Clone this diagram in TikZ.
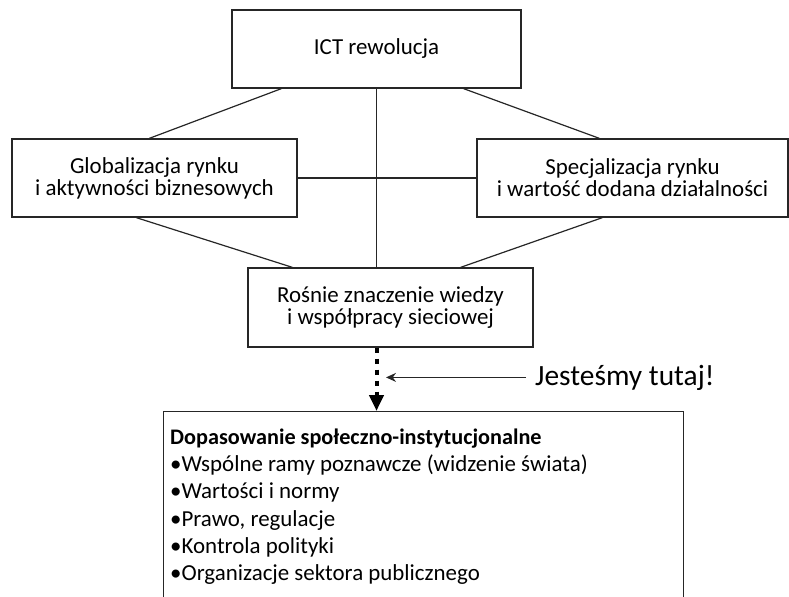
\documentclass[tikz,border=0pt]{standalone}
\usepackage{fontspec}
\setmainfont{Carlito}
\usetikzlibrary{calc}
\usetikzlibrary{arrows.meta}

\begin{document}
\begin{tikzpicture}[x=1bp,y=-1bp,
  box/.style={draw=black!85, line width=1.3bp, align=center, inner sep=0pt,
    minimum height=78bp, font=\fontsize{23}{22}\selectfont},
  link/.style={black!85, line width=1.2bp}]
\useasboundingbox (0,0) rectangle (789,597);
\clip (0,0) rectangle (789,597);
% boxes
\node[box, minimum width=289bp] (ict) at (376.5,49) {ICT rewolucja};
\node[box, minimum width=285bp] (glob) at (154.5,178) {Globalizacja rynku\\i aktywności biznesowych};
\node[box, minimum width=311bp] (spec) at (632.5,178) {Specjalizacja rynku\\i wartość dodana działalności};
\node[box, minimum width=285bp, minimum height=79bp] (wiedza) at (390.5,307.5) {Rośnie znaczenie wiedzy\\i współpracy sieciowej};
\node[box, minimum width=520bp, minimum height=215bp, anchor=north west] (dopas) at (163,411) {};
\node[anchor=north west, inner sep=0pt, align=left, font=\fontsize{23}{27.2}\selectfont] (lista) at (170,429)
  {{\bfseries\fontsize{22.3}{27.2}\selectfont Dopasowanie społeczno-instytucjonalne}\\
   •Wspólne ramy poznawcze (widzenie świata)\\
   •Wartości i normy\\
   •Prawo, regulacje\\
   •Kontrola polityki\\
   •Organizacje sektora publicznego};
\node[anchor=base west, inner sep=0pt, font=\fontsize{29.5}{36}\selectfont] (tutaj) at (535,385) {Jesteśmy tutaj!};
% connectors
\draw[link] (ict.south) -- (ict.south |- wiedza.north);
\draw[link] (glob.east) -- (spec.west);
\draw[link] ([xshift=50bp]ict.south west) -- ([xshift=138bp]glob.north west);
\draw[link] ([xshift=-58bp]ict.south east) -- ([xshift=123bp]spec.north west);
\draw[link] ([xshift=125bp]glob.south west) -- ([xshift=45bp]wiedza.north west);
\draw[link] ([xshift=126bp]spec.south west) -- ([xshift=-73bp]wiedza.north east);
\draw[line width=4bp, dash pattern=on 5bp off 6bp, -{Triangle[width=14bp,length=16bp]}]
  (ict.south |- wiedza.south) -- (ict.south |- dopas.north);
\coordinate (tu) at (386,375);
\draw[link, -{Stealth[length=10bp,width=9bp]}] ([xshift=-9bp]tutaj.west) -- (tu |- tutaj.west);
\end{tikzpicture}
\end{document}
